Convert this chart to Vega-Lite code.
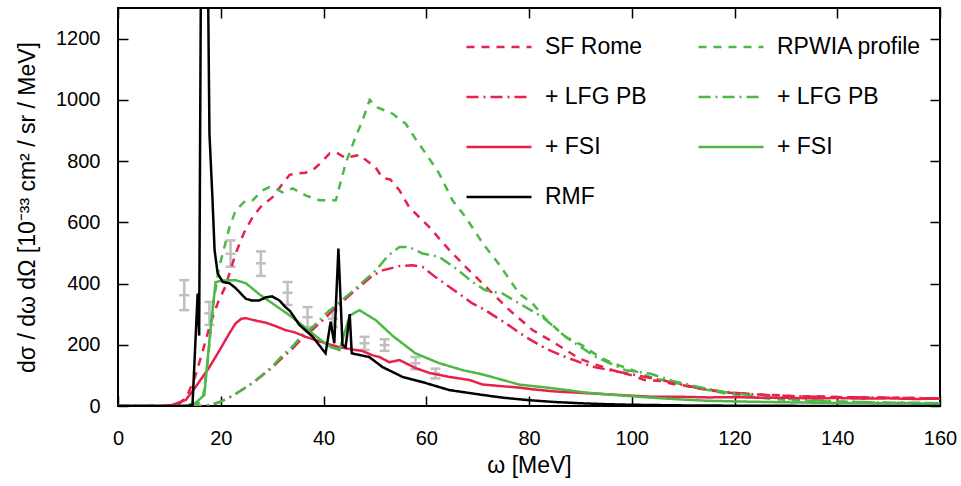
{
  "$schema": "https://vega.github.io/schema/vega-lite/v6.json",
  "width": 822,
  "height": 398,
  "autosize": {"type": "none"},
  "padding": {"left": 118, "top": 8, "right": 21, "bottom": 80},
  "background": "white",
  "config": {
    "font": "Liberation Sans",
    "view": {"stroke": "black", "strokeWidth": 2},
    "axis": {
      "grid": false,
      "domain": false,
      "labelFlush": false,
      "labelFont": "Liberation Sans",
      "titleFont": "Liberation Sans",
      "labelFontSize": 20,
      "titleFontSize": 23,
      "titleFontWeight": "normal",
      "labelColor": "black",
      "titleColor": "black",
      "tickColor": "black",
      "tickWidth": 1.5,
      "tickSize": -10
    }
  },
  "datasets": {
    "err": [
      {"w": 12.9, "c": 362, "lo": 313, "hi": 411},
      {"w": 17.8, "c": 303, "lo": 265, "hi": 340},
      {"w": 21.9, "c": 497, "lo": 455, "hi": 541},
      {"w": 27.8, "c": 466, "lo": 425, "hi": 505},
      {"w": 33.0, "c": 370, "lo": 330, "hi": 405},
      {"w": 36.9, "c": 290, "lo": 258, "hi": 323},
      {"w": 41.8, "c": 285, "lo": 258, "hi": 312},
      {"w": 48.0, "c": 205, "lo": 183, "hi": 226},
      {"w": 51.9, "c": 199, "lo": 180, "hi": 218},
      {"w": 57.9, "c": 140, "lo": 120, "hi": 160},
      {"w": 61.8, "c": 106, "lo": 90, "hi": 122}
    ],
    "lines": [
      {"s": "SF Rome", "w": 0, "v": 0}, {"s": "SF Rome", "w": 10, "v": 0}, {"s": "SF Rome", "w": 12, "v": 8}, {"s": "SF Rome", "w": 13.5, "v": 35}, {"s": "SF Rome", "w": 15, "v": 95}, {"s": "SF Rome", "w": 16.5, "v": 180}, {"s": "SF Rome", "w": 18, "v": 270}, {"s": "SF Rome", "w": 19.5, "v": 340}, {"s": "SF Rome", "w": 20.9, "v": 390}, {"s": "SF Rome", "w": 22.9, "v": 498}, {"s": "SF Rome", "w": 24.5, "v": 565}, {"s": "SF Rome", "w": 26.2, "v": 617}, {"s": "SF Rome", "w": 28, "v": 655}, {"s": "SF Rome", "w": 30.1, "v": 682}, {"s": "SF Rome", "w": 32, "v": 725}, {"s": "SF Rome", "w": 33.4, "v": 755}, {"s": "SF Rome", "w": 35, "v": 760}, {"s": "SF Rome", "w": 36.5, "v": 762}, {"s": "SF Rome", "w": 38, "v": 772}, {"s": "SF Rome", "w": 39.2, "v": 790}, {"s": "SF Rome", "w": 41.2, "v": 825}, {"s": "SF Rome", "w": 42.5, "v": 828}, {"s": "SF Rome", "w": 44.3, "v": 810}, {"s": "SF Rome", "w": 45.5, "v": 815}, {"s": "SF Rome", "w": 47, "v": 820}, {"s": "SF Rome", "w": 48.5, "v": 800}, {"s": "SF Rome", "w": 50.1, "v": 780}, {"s": "SF Rome", "w": 51.5, "v": 745}, {"s": "SF Rome", "w": 53, "v": 740}, {"s": "SF Rome", "w": 54.8, "v": 704}, {"s": "SF Rome", "w": 56.7, "v": 649}, {"s": "SF Rome", "w": 60.6, "v": 584}, {"s": "SF Rome", "w": 64.5, "v": 509}, {"s": "SF Rome", "w": 67.7, "v": 454}, {"s": "SF Rome", "w": 72.3, "v": 378}, {"s": "SF Rome", "w": 76.2, "v": 313}, {"s": "SF Rome", "w": 80.7, "v": 248}, {"s": "SF Rome", "w": 84.6, "v": 210}, {"s": "SF Rome", "w": 89.8, "v": 155}, {"s": "SF Rome", "w": 93, "v": 135}, {"s": "SF Rome", "w": 96.3, "v": 117}, {"s": "SF Rome", "w": 100, "v": 100}, {"s": "SF Rome", "w": 102.5, "v": 85}, {"s": "SF Rome", "w": 105.5, "v": 82}, {"s": "SF Rome", "w": 108, "v": 72}, {"s": "SF Rome", "w": 110, "v": 68}, {"s": "SF Rome", "w": 112, "v": 60}, {"s": "SF Rome", "w": 115, "v": 52}, {"s": "SF Rome", "w": 118, "v": 44}, {"s": "SF Rome", "w": 121, "v": 42}, {"s": "SF Rome", "w": 124, "v": 38}, {"s": "SF Rome", "w": 127, "v": 36}, {"s": "SF Rome", "w": 130, "v": 34}, {"s": "SF Rome", "w": 133, "v": 31}, {"s": "SF Rome", "w": 136, "v": 32}, {"s": "SF Rome", "w": 140, "v": 29}, {"s": "SF Rome", "w": 145, "v": 28}, {"s": "SF Rome", "w": 150, "v": 27}, {"s": "SF Rome", "w": 155, "v": 26}, {"s": "SF Rome", "w": 160, "v": 24},

      {"s": "RPWIA profile", "w": 0, "v": 0}, {"s": "RPWIA profile", "w": 15, "v": 0}, {"s": "RPWIA profile", "w": 16.5, "v": 20}, {"s": "RPWIA profile", "w": 17.5, "v": 150}, {"s": "RPWIA profile", "w": 18.5, "v": 330}, {"s": "RPWIA profile", "w": 19.7, "v": 454}, {"s": "RPWIA profile", "w": 21.7, "v": 584}, {"s": "RPWIA profile", "w": 22.9, "v": 639}, {"s": "RPWIA profile", "w": 24.9, "v": 672}, {"s": "RPWIA profile", "w": 26.2, "v": 672}, {"s": "RPWIA profile", "w": 28.1, "v": 704}, {"s": "RPWIA profile", "w": 29.5, "v": 715}, {"s": "RPWIA profile", "w": 30.7, "v": 711}, {"s": "RPWIA profile", "w": 32, "v": 698}, {"s": "RPWIA profile", "w": 34, "v": 711}, {"s": "RPWIA profile", "w": 36.5, "v": 688}, {"s": "RPWIA profile", "w": 39.2, "v": 672}, {"s": "RPWIA profile", "w": 42.4, "v": 672}, {"s": "RPWIA profile", "w": 44.3, "v": 792}, {"s": "RPWIA profile", "w": 46.2, "v": 877}, {"s": "RPWIA profile", "w": 47.6, "v": 933}, {"s": "RPWIA profile", "w": 49, "v": 1000}, {"s": "RPWIA profile", "w": 50.5, "v": 975}, {"s": "RPWIA profile", "w": 52, "v": 965}, {"s": "RPWIA profile", "w": 53.4, "v": 955}, {"s": "RPWIA profile", "w": 56, "v": 922}, {"s": "RPWIA profile", "w": 58, "v": 870}, {"s": "RPWIA profile", "w": 59.9, "v": 825}, {"s": "RPWIA profile", "w": 62.5, "v": 760}, {"s": "RPWIA profile", "w": 65.1, "v": 672}, {"s": "RPWIA profile", "w": 67.7, "v": 616}, {"s": "RPWIA profile", "w": 71, "v": 531}, {"s": "RPWIA profile", "w": 74.3, "v": 460}, {"s": "RPWIA profile", "w": 78.1, "v": 367}, {"s": "RPWIA profile", "w": 80.7, "v": 335}, {"s": "RPWIA profile", "w": 83.2, "v": 285}, {"s": "RPWIA profile", "w": 87.1, "v": 226}, {"s": "RPWIA profile", "w": 90.4, "v": 198}, {"s": "RPWIA profile", "w": 93.7, "v": 160}, {"s": "RPWIA profile", "w": 96.3, "v": 140}, {"s": "RPWIA profile", "w": 100.2, "v": 117}, {"s": "RPWIA profile", "w": 103.5, "v": 95}, {"s": "RPWIA profile", "w": 106, "v": 85}, {"s": "RPWIA profile", "w": 110, "v": 70}, {"s": "RPWIA profile", "w": 114, "v": 55}, {"s": "RPWIA profile", "w": 118, "v": 42}, {"s": "RPWIA profile", "w": 122, "v": 33}, {"s": "RPWIA profile", "w": 126, "v": 25}, {"s": "RPWIA profile", "w": 130, "v": 20}, {"s": "RPWIA profile", "w": 135, "v": 16}, {"s": "RPWIA profile", "w": 140, "v": 14}, {"s": "RPWIA profile", "w": 150, "v": 11}, {"s": "RPWIA profile", "w": 160, "v": 9},

      {"s": "SF + LFG PB", "w": 0, "v": 0}, {"s": "SF + LFG PB", "w": 16, "v": 0}, {"s": "SF + LFG PB", "w": 18.5, "v": 5}, {"s": "SF + LFG PB", "w": 19.8, "v": 13}, {"s": "SF + LFG PB", "w": 22.5, "v": 35}, {"s": "SF + LFG PB", "w": 26.2, "v": 75}, {"s": "SF + LFG PB", "w": 30.1, "v": 127}, {"s": "SF + LFG PB", "w": 32, "v": 158}, {"s": "SF + LFG PB", "w": 34, "v": 188}, {"s": "SF + LFG PB", "w": 35.9, "v": 222}, {"s": "SF + LFG PB", "w": 37.9, "v": 250}, {"s": "SF + LFG PB", "w": 40.5, "v": 290}, {"s": "SF + LFG PB", "w": 41.8, "v": 313}, {"s": "SF + LFG PB", "w": 46.2, "v": 378}, {"s": "SF + LFG PB", "w": 49.5, "v": 425}, {"s": "SF + LFG PB", "w": 51.5, "v": 443}, {"s": "SF + LFG PB", "w": 54.8, "v": 457}, {"s": "SF + LFG PB", "w": 57.3, "v": 460}, {"s": "SF + LFG PB", "w": 59.3, "v": 454}, {"s": "SF + LFG PB", "w": 61.8, "v": 421}, {"s": "SF + LFG PB", "w": 65.7, "v": 375}, {"s": "SF + LFG PB", "w": 69, "v": 335}, {"s": "SF + LFG PB", "w": 71.5, "v": 313}, {"s": "SF + LFG PB", "w": 75.5, "v": 270}, {"s": "SF + LFG PB", "w": 79.3, "v": 226}, {"s": "SF + LFG PB", "w": 83.2, "v": 188}, {"s": "SF + LFG PB", "w": 87.1, "v": 160}, {"s": "SF + LFG PB", "w": 92.4, "v": 128}, {"s": "SF + LFG PB", "w": 97.6, "v": 111}, {"s": "SF + LFG PB", "w": 102.7, "v": 95}, {"s": "SF + LFG PB", "w": 107, "v": 80}, {"s": "SF + LFG PB", "w": 112, "v": 62}, {"s": "SF + LFG PB", "w": 117, "v": 48}, {"s": "SF + LFG PB", "w": 122, "v": 40}, {"s": "SF + LFG PB", "w": 127, "v": 35}, {"s": "SF + LFG PB", "w": 132, "v": 32}, {"s": "SF + LFG PB", "w": 140, "v": 29}, {"s": "SF + LFG PB", "w": 150, "v": 27}, {"s": "SF + LFG PB", "w": 160, "v": 25},

      {"s": "RPWIA + LFG PB", "w": 0, "v": 0}, {"s": "RPWIA + LFG PB", "w": 17, "v": 0}, {"s": "RPWIA + LFG PB", "w": 19.8, "v": 13}, {"s": "RPWIA + LFG PB", "w": 22.5, "v": 35}, {"s": "RPWIA + LFG PB", "w": 26.2, "v": 75}, {"s": "RPWIA + LFG PB", "w": 30.1, "v": 130}, {"s": "RPWIA + LFG PB", "w": 32, "v": 165}, {"s": "RPWIA + LFG PB", "w": 34, "v": 195}, {"s": "RPWIA + LFG PB", "w": 35.9, "v": 232}, {"s": "RPWIA + LFG PB", "w": 37.9, "v": 258}, {"s": "RPWIA + LFG PB", "w": 40.5, "v": 302}, {"s": "RPWIA + LFG PB", "w": 45.1, "v": 367}, {"s": "RPWIA + LFG PB", "w": 50.2, "v": 443}, {"s": "RPWIA + LFG PB", "w": 52.5, "v": 490}, {"s": "RPWIA + LFG PB", "w": 54.8, "v": 519}, {"s": "RPWIA + LFG PB", "w": 56.7, "v": 519}, {"s": "RPWIA + LFG PB", "w": 59.3, "v": 498}, {"s": "RPWIA + LFG PB", "w": 62.5, "v": 487}, {"s": "RPWIA + LFG PB", "w": 65.7, "v": 450}, {"s": "RPWIA + LFG PB", "w": 69, "v": 405}, {"s": "RPWIA + LFG PB", "w": 71.5, "v": 378}, {"s": "RPWIA + LFG PB", "w": 74.9, "v": 367}, {"s": "RPWIA + LFG PB", "w": 78.1, "v": 335}, {"s": "RPWIA + LFG PB", "w": 82.6, "v": 291}, {"s": "RPWIA + LFG PB", "w": 87.1, "v": 226}, {"s": "RPWIA + LFG PB", "w": 93, "v": 160}, {"s": "RPWIA + LFG PB", "w": 98.8, "v": 117}, {"s": "RPWIA + LFG PB", "w": 103.5, "v": 106}, {"s": "RPWIA + LFG PB", "w": 108, "v": 82}, {"s": "RPWIA + LFG PB", "w": 113, "v": 62}, {"s": "RPWIA + LFG PB", "w": 118, "v": 46}, {"s": "RPWIA + LFG PB", "w": 123, "v": 35}, {"s": "RPWIA + LFG PB", "w": 128, "v": 26}, {"s": "RPWIA + LFG PB", "w": 133, "v": 20}, {"s": "RPWIA + LFG PB", "w": 140, "v": 15}, {"s": "RPWIA + LFG PB", "w": 150, "v": 11}, {"s": "RPWIA + LFG PB", "w": 160, "v": 9},

      {"s": "SF + FSI", "w": 0, "v": 0}, {"s": "SF + FSI", "w": 8, "v": 0}, {"s": "SF + FSI", "w": 10.5, "v": 3}, {"s": "SF + FSI", "w": 13.2, "v": 20}, {"s": "SF + FSI", "w": 15.1, "v": 62}, {"s": "SF + FSI", "w": 17.8, "v": 127}, {"s": "SF + FSI", "w": 19.8, "v": 183}, {"s": "SF + FSI", "w": 21.7, "v": 238}, {"s": "SF + FSI", "w": 22.9, "v": 270}, {"s": "SF + FSI", "w": 24, "v": 285}, {"s": "SF + FSI", "w": 24.9, "v": 287}, {"s": "SF + FSI", "w": 26.5, "v": 280}, {"s": "SF + FSI", "w": 28.8, "v": 272}, {"s": "SF + FSI", "w": 30.5, "v": 262}, {"s": "SF + FSI", "w": 32.6, "v": 248}, {"s": "SF + FSI", "w": 34.5, "v": 240}, {"s": "SF + FSI", "w": 36.5, "v": 226}, {"s": "SF + FSI", "w": 40.4, "v": 205}, {"s": "SF + FSI", "w": 43.1, "v": 192}, {"s": "SF + FSI", "w": 46.2, "v": 183}, {"s": "SF + FSI", "w": 47.5, "v": 180}, {"s": "SF + FSI", "w": 49.5, "v": 166}, {"s": "SF + FSI", "w": 50.9, "v": 160}, {"s": "SF + FSI", "w": 52.8, "v": 143}, {"s": "SF + FSI", "w": 54.8, "v": 150}, {"s": "SF + FSI", "w": 56, "v": 140}, {"s": "SF + FSI", "w": 57.9, "v": 124}, {"s": "SF + FSI", "w": 60.6, "v": 108}, {"s": "SF + FSI", "w": 64.5, "v": 95}, {"s": "SF + FSI", "w": 68.4, "v": 85}, {"s": "SF + FSI", "w": 71, "v": 70}, {"s": "SF + FSI", "w": 74.5, "v": 65}, {"s": "SF + FSI", "w": 78.1, "v": 60}, {"s": "SF + FSI", "w": 80.5, "v": 55}, {"s": "SF + FSI", "w": 84.6, "v": 48}, {"s": "SF + FSI", "w": 91, "v": 42}, {"s": "SF + FSI", "w": 97.6, "v": 36}, {"s": "SF + FSI", "w": 104, "v": 30}, {"s": "SF + FSI", "w": 110, "v": 30}, {"s": "SF + FSI", "w": 115, "v": 28}, {"s": "SF + FSI", "w": 120, "v": 29}, {"s": "SF + FSI", "w": 125, "v": 27}, {"s": "SF + FSI", "w": 130, "v": 27}, {"s": "SF + FSI", "w": 135, "v": 25}, {"s": "SF + FSI", "w": 140, "v": 26}, {"s": "SF + FSI", "w": 145, "v": 24}, {"s": "SF + FSI", "w": 150, "v": 25}, {"s": "SF + FSI", "w": 155, "v": 23}, {"s": "SF + FSI", "w": 160, "v": 24},

      {"s": "RPWIA + FSI", "w": 0, "v": 0}, {"s": "RPWIA + FSI", "w": 13, "v": 0}, {"s": "RPWIA + FSI", "w": 15.1, "v": 10}, {"s": "RPWIA + FSI", "w": 16.8, "v": 36}, {"s": "RPWIA + FSI", "w": 18, "v": 250}, {"s": "RPWIA + FSI", "w": 19, "v": 405}, {"s": "RPWIA + FSI", "w": 20.5, "v": 410}, {"s": "RPWIA + FSI", "w": 22.9, "v": 411}, {"s": "RPWIA + FSI", "w": 24.9, "v": 401}, {"s": "RPWIA + FSI", "w": 27.5, "v": 365}, {"s": "RPWIA + FSI", "w": 30.5, "v": 330}, {"s": "RPWIA + FSI", "w": 33.5, "v": 295}, {"s": "RPWIA + FSI", "w": 36.5, "v": 255}, {"s": "RPWIA + FSI", "w": 39.5, "v": 215}, {"s": "RPWIA + FSI", "w": 41.5, "v": 192}, {"s": "RPWIA + FSI", "w": 43.1, "v": 183}, {"s": "RPWIA + FSI", "w": 45.1, "v": 295}, {"s": "RPWIA + FSI", "w": 47, "v": 313}, {"s": "RPWIA + FSI", "w": 50.2, "v": 280}, {"s": "RPWIA + FSI", "w": 53.4, "v": 230}, {"s": "RPWIA + FSI", "w": 57.9, "v": 172}, {"s": "RPWIA + FSI", "w": 62.5, "v": 140}, {"s": "RPWIA + FSI", "w": 67.1, "v": 117}, {"s": "RPWIA + FSI", "w": 71, "v": 103}, {"s": "RPWIA + FSI", "w": 78.1, "v": 70}, {"s": "RPWIA + FSI", "w": 84.6, "v": 58}, {"s": "RPWIA + FSI", "w": 91, "v": 44}, {"s": "RPWIA + FSI", "w": 97.6, "v": 35}, {"s": "RPWIA + FSI", "w": 104, "v": 27}, {"s": "RPWIA + FSI", "w": 110, "v": 21}, {"s": "RPWIA + FSI", "w": 115, "v": 17}, {"s": "RPWIA + FSI", "w": 120, "v": 15}, {"s": "RPWIA + FSI", "w": 130, "v": 12}, {"s": "RPWIA + FSI", "w": 140, "v": 10}, {"s": "RPWIA + FSI", "w": 150, "v": 9}, {"s": "RPWIA + FSI", "w": 160, "v": 8},

      {"s": "RMF", "w": 0, "v": 0}, {"s": "RMF", "w": 13.5, "v": 0}, {"s": "RMF", "w": 14.5, "v": 3}, {"s": "RMF", "w": 15.5, "v": 367}, {"s": "RMF", "w": 15.8, "v": 230}, {"s": "RMF", "w": 16.6, "v": 3000}, {"s": "RMF", "w": 17.8, "v": 890}, {"s": "RMF", "w": 18.4, "v": 672}, {"s": "RMF", "w": 18.8, "v": 509}, {"s": "RMF", "w": 19.4, "v": 433}, {"s": "RMF", "w": 20.4, "v": 405}, {"s": "RMF", "w": 21.7, "v": 401}, {"s": "RMF", "w": 22.9, "v": 385}, {"s": "RMF", "w": 24.9, "v": 350}, {"s": "RMF", "w": 26, "v": 345}, {"s": "RMF", "w": 27.5, "v": 345}, {"s": "RMF", "w": 28.8, "v": 355}, {"s": "RMF", "w": 30, "v": 358}, {"s": "RMF", "w": 31.4, "v": 345}, {"s": "RMF", "w": 32.6, "v": 323}, {"s": "RMF", "w": 33.5, "v": 310}, {"s": "RMF", "w": 35.3, "v": 265}, {"s": "RMF", "w": 37.9, "v": 226}, {"s": "RMF", "w": 40.4, "v": 172}, {"s": "RMF", "w": 41.4, "v": 275}, {"s": "RMF", "w": 42.1, "v": 205}, {"s": "RMF", "w": 42.9, "v": 514}, {"s": "RMF", "w": 43.7, "v": 200}, {"s": "RMF", "w": 44.3, "v": 192}, {"s": "RMF", "w": 45.1, "v": 300}, {"s": "RMF", "w": 45.5, "v": 172}, {"s": "RMF", "w": 48.9, "v": 160}, {"s": "RMF", "w": 51.5, "v": 127}, {"s": "RMF", "w": 55.4, "v": 95}, {"s": "RMF", "w": 59.9, "v": 75}, {"s": "RMF", "w": 64.5, "v": 52}, {"s": "RMF", "w": 71, "v": 36}, {"s": "RMF", "w": 75, "v": 27}, {"s": "RMF", "w": 80, "v": 19}, {"s": "RMF", "w": 85, "v": 13}, {"s": "RMF", "w": 90, "v": 9}, {"s": "RMF", "w": 95, "v": 6}, {"s": "RMF", "w": 100, "v": 4}, {"s": "RMF", "w": 110, "v": 2}, {"s": "RMF", "w": 120, "v": 1}, {"s": "RMF", "w": 140, "v": 0}, {"s": "RMF", "w": 160, "v": 0}
    ]
  },
  "layer": [
    {
      "data": {"name": "err"},
      "mark": {"type": "rule", "color": "#bfbfbf", "strokeWidth": 2.5},
      "encoding": {
        "x": {"field": "w", "type": "quantitative", "scale": {"domain": [0, 160], "nice": false},
              "axis": {"orient": "top", "labels": false, "title": null, "values": [0, 20, 40, 60, 80, 100, 120, 140, 160]}},
        "y": {"field": "lo", "type": "quantitative", "scale": {"domain": [0, 1300], "nice": false},
              "axis": {"orient": "right", "labels": false, "title": null, "values": [0, 200, 400, 600, 800, 1000, 1200]}},
        "y2": {"field": "hi"}
      }
    },
    {
      "data": {"name": "err"},
      "transform": [{"fold": ["lo", "c", "hi"], "as": ["k", "v"]}],
      "mark": {"type": "tick", "orient": "horizontal", "color": "#bfbfbf", "size": 10, "thickness": 2.5, "opacity": 1},
      "encoding": {
        "x": {"field": "w", "type": "quantitative", "axis": null},
        "y": {"field": "v", "type": "quantitative", "axis": null}
      }
    },
    {
      "data": {"name": "lines"},
      "mark": {"type": "line", "strokeWidth": 2.5, "clip": true},
      "encoding": {
        "x": {"field": "w", "type": "quantitative",
              "axis": {"title": "ω [MeV]", "format": "d", "values": [0, 20, 40, 60, 80, 100, 120, 140, 160], "labelPadding": 32, "titlePadding": 6}},
        "y": {"field": "v", "type": "quantitative",
              "axis": {"title": "dσ / dω dΩ [10⁻³³ cm² / sr / MeV]", "format": "d", "values": [0, 200, 400, 600, 800, 1000, 1200], "labelPadding": 28, "titlePadding": 16}},
        "color": {
          "field": "s", "type": "nominal",
          "scale": {"domain": ["SF Rome", "RPWIA profile", "SF + LFG PB", "RPWIA + LFG PB", "SF + FSI", "RPWIA + FSI", "RMF"],
                    "range": ["#e8214c", "#4db847", "#e8214c", "#4db847", "#e8214c", "#4db847", "#000000"]},
          "legend": {"title": null, "orient": "none", "legendX": 347, "legendY": 5, "columns": 2, "direction": "horizontal", "padding": 0,
                     "symbolType": "stroke", "symbolSize": 4225, "symbolStrokeWidth": 2.5,
                     "labelFont": "Liberation Sans", "labelFontSize": 23, "labelColor": "black", "labelOffset": 12, "labelLimit": 300,
                     "rowPadding": 4, "columnPadding": 46,
                     "labelExpr": "indexof(datum.label, ' + ') > 0 ? substring(datum.label, indexof(datum.label, ' + ') + 1) : datum.label"}
        },
        "strokeDash": {
          "field": "s", "type": "nominal",
          "scale": {"domain": ["SF Rome", "RPWIA profile", "SF + LFG PB", "RPWIA + LFG PB", "SF + FSI", "RPWIA + FSI", "RMF"],
                    "range": [[8, 7], [8, 7], [12, 5, 2, 5], [12, 5, 2, 5], [1, 0], [1, 0], [1, 0]]},
          "legend": {"title": null, "orient": "none", "legendX": 347, "legendY": 5, "columns": 2, "direction": "horizontal", "padding": 0,
                     "symbolType": "stroke", "symbolSize": 4225, "symbolStrokeWidth": 2.5,
                     "labelFont": "Liberation Sans", "labelFontSize": 23, "labelColor": "black", "labelOffset": 12, "labelLimit": 300,
                     "rowPadding": 4, "columnPadding": 46,
                     "labelExpr": "indexof(datum.label, ' + ') > 0 ? substring(datum.label, indexof(datum.label, ' + ') + 1) : datum.label"}
        }
      }
    }
  ],
  "resolve": {"axis": {"x": "independent", "y": "independent"}}
}
